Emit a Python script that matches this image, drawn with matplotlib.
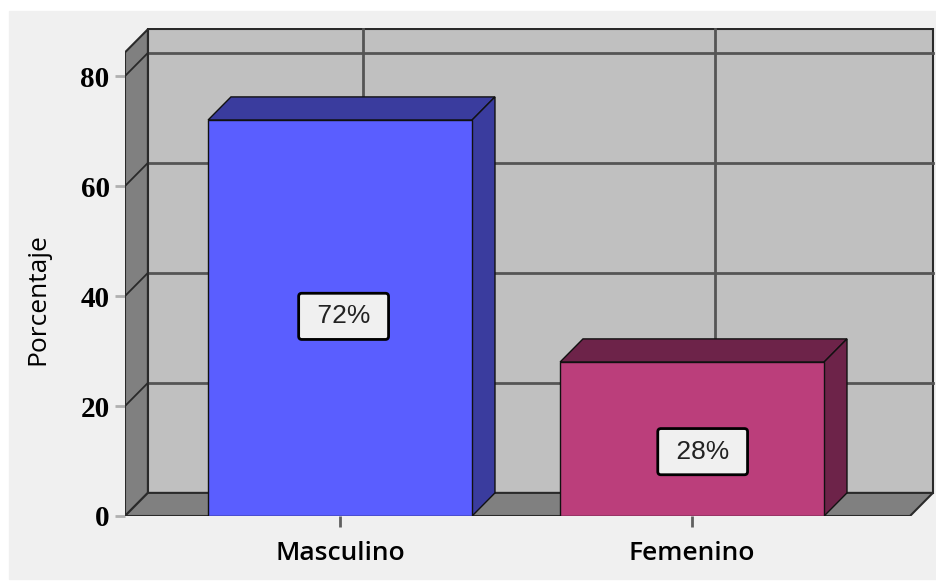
import numpy as np
import matplotlib.pyplot as plt
from matplotlib.patches import Rectangle

categories = ['Masculino', 'Femenino']
values = [72, 28]
labels = ['72%', '28%']
yticks = [0, 20, 40, 60, 80]

front_colors = ['#5a5eff', '#bb3e7b']
dark_colors = ['#3a3c9e', '#6d2349']

# layout (data units of the front plane)
label_x = [0.01, 1.03]
label_y = [36.3, 11.7]
x0, x1 = -0.611, 1.619      # front floor edges
ymax = 84.3                 # wall height
dx, dy = 0.065, 4.2         # 3d depth offset
bw = 0.75

fig = plt.figure(figsize=(9.37, 5.82), dpi=100, facecolor='white')
fig.patches.append(Rectangle((9 / 937, 3 / 582), 928 / 937, 568 / 582,
                             transform=fig.transFigure, color='#f0f0f0', zorder=-10))
ax = fig.add_axes([125 / 937, 66 / 582, 810 / 937, 488 / 582])
ax.set_facecolor('none')
ax.set_xlim(-0.611, 1.690)
ax.set_ylim(0, 88.73)

edge = '#2a2a2a'
grid = '#555555'

# back wall
ax.fill([x0 + dx, x1 + dx, x1 + dx, x0 + dx], [dy, dy, ymax + dy, ymax + dy],
        color='#c0c0c0', ec=edge, lw=1.5, zorder=1)
for v in yticks[1:]:
    ax.plot([x0 + dx, x1 + dx], [v + dy, v + dy], color=grid, lw=2, zorder=2)
for i in range(len(categories)):
    ax.plot([i + dx, i + dx], [dy, ymax + dy], color=grid, lw=2, zorder=2)

# left wall
ax.fill([x0, x0 + dx, x0 + dx, x0], [0, dy, ymax + dy, ymax],
        color='#808080', ec=edge, lw=1.5, zorder=3)
for v in yticks[1:]:
    ax.plot([x0, x0 + dx], [v, v + dy], color=edge, lw=1.3, zorder=3)

# floor
ax.fill([x0, x1, x1 + dx, x0 + dx], [0, 0, dy, dy],
        color='#808080', ec=edge, lw=1.5, zorder=3)

# bars
xs = np.arange(len(categories))
ax.bar(xs, values, width=bw, color=front_colors, edgecolor='#111111', lw=1, zorder=6)
for i, v in enumerate(values):
    l, r = i - bw / 2, i + bw / 2
    ax.fill([l, r, r + dx, l + dx], [v, v, v + dy, v + dy],
            color=dark_colors[i], ec='#111111', lw=1, zorder=5)
    ax.fill([r, r + dx, r + dx, r], [0, dy, v + dy, v],
            color=dark_colors[i], ec='#111111', lw=1, zorder=5)
    ax.text(label_x[i], label_y[i], ' ' + labels[i] + ' ', ha='center', va='center',
            fontsize=19, family='Liberation Sans', color='#222222', zorder=8,
            bbox=dict(boxstyle='round,pad=0.42,rounding_size=0.12',
                      fc='#f0f0f0', ec='black', lw=2))

for s in ax.spines.values():
    s.set_visible(False)

ax.set_yticks(yticks)
ax.set_yticklabels([str(t) for t in yticks], family='Liberation Serif',
                   fontweight='bold', fontsize=21)
ax.tick_params(axis='y', length=7, width=2, color='#b0b0b0', pad=4)
ax.set_xticks(xs)
ax.set_xticklabels(categories, family='Open Sans', fontweight='semibold', fontsize=19)
ax.tick_params(axis='x', length=8, width=2, color='#606060', pad=10)

ax.set_ylabel('Porcentaje', family='Open Sans', fontsize=19)
ax.yaxis.set_label_coords(-75 / 810, 0.445)

plt.savefig('out.png', dpi=100, facecolor='white')
